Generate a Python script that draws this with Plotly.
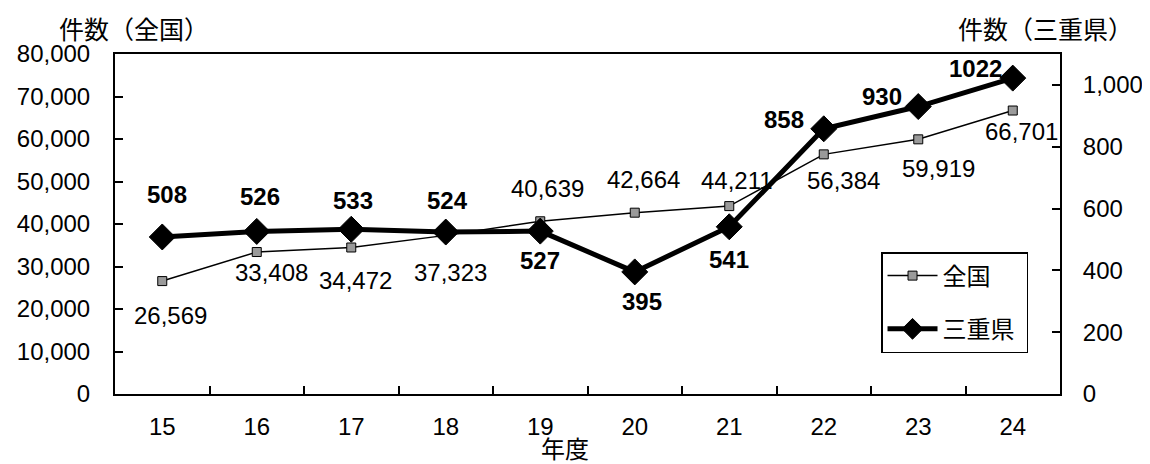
import plotly.graph_objects as go

years = ["15", "16", "17", "18", "19", "20", "21", "22", "23", "24"]
national = [26569, 33408, 34472, 37323, 40639, 42664, 44211, 56384, 59919, 66701]
mie = [508, 526, 533, 524, 527, 395, 541, 858, 930, 1022]

# label offsets in pixels (style only)
nat_off = [(8, 34), (15, 20), (4, 33), (5, 37), (7, -33), (9, -33), (8, -26), (20, 26), (20, 29), (9, 21)]
mie_off = [(5, -42), (3, -35), (2, -29), (2, -32), (0, 29), (7, 30), (0, 33), (-40, -9), (-36, -10), (-37, -10)]

FONT = "Liberation Sans, Arial, Noto Sans CJK JP"
FS = 24

fig = go.Figure()
fig.add_trace(go.Scatter(
    x=years, y=national, name="全国", mode="lines+markers",
    line=dict(color="black", width=1.5),
    marker=dict(symbol="square", size=9, color="#9a9a9a", line=dict(color="black", width=1)),
    yaxis="y", legendgroup="a",
))
fig.add_trace(go.Scatter(
    x=years, y=mie, name="三重県\u00a0", mode="lines+markers",
    line=dict(color="black", width=5),
    marker=dict(symbol="diamond", size=20, color="black", line=dict(color="black", width=1)),
    yaxis="y2", legendgroup="b",
))

annotations = []
for i, (yv, (dx, dy)) in enumerate(zip(national, nat_off)):
    annotations.append(dict(x=i, y=yv, xref="x", yref="y", text=f"{yv:,}",
                            showarrow=False, xshift=dx, yshift=-dy,
                            font=dict(family=FONT, size=FS, color="black")))
for i, (yv, (dx, dy)) in enumerate(zip(mie, mie_off)):
    annotations.append(dict(x=i, y=yv, xref="x", yref="y2", text=f"<b>{yv}</b>",
                            showarrow=False, xshift=dx, yshift=-dy,
                            font=dict(family=FONT, size=FS, color="black")))

annotations += [
    dict(text="件数（全国）", xref="paper", yref="paper", x=-0.0614, y=1.0, yshift=24,
         xanchor="left", yanchor="middle", showarrow=False,
         font=dict(family=FONT, size=25, color="black")),
    dict(text="件数（三重県）", xref="paper", yref="paper", x=1.0794, y=1.0, yshift=24,
         xanchor="right", yanchor="middle", showarrow=False,
         font=dict(family=FONT, size=25, color="black")),
    dict(text="年度", xref="paper", yref="paper", x=0.476, y=0, yshift=-55,
         xanchor="center", yanchor="middle", showarrow=False,
         font=dict(family=FONT, size=FS, color="black")),
]

fig.update_layout(
    width=1142, height=456,
    margin=dict(l=107, r=90, t=46, b=70, autoexpand=False),
    paper_bgcolor="white", plot_bgcolor="white",
    font=dict(family=FONT, size=FS, color="black"),
    showlegend=True,
    legend=dict(x=0.8106, y=0.4176, xanchor="left", yanchor="top",
                bgcolor="white", bordercolor="black", borderwidth=1.5,
                itemwidth=50, tracegroupgap=19,
                font=dict(family=FONT, size=FS, color="black")),
    xaxis=dict(type="category", range=[-0.5, 9.5], showgrid=False, automargin=False,
               ticks="inside", tickson="boundaries", tickangle=0,
               ticklen=8, tickwidth=2, tickcolor="black",
               showline=True, linecolor="black", linewidth=2, mirror=True,
               ticklabelstandoff=10, tickfont=dict(size=FS)),
    yaxis=dict(range=[0, 80000], dtick=10000, tickformat=",", showgrid=False, automargin=False,
               ticks="inside", ticklen=8, tickwidth=2, tickcolor="black",
               showline=True, linecolor="black", linewidth=2, zeroline=False,
               ticklabelstandoff=18, tickfont=dict(size=FS)),
    yaxis2=dict(range=[0, 1100], tickvals=[0, 200, 400, 600, 800, 1000], tickformat=",",
                overlaying="y", side="right", showgrid=False, automargin=False,
                ticks="inside", ticklen=8, tickwidth=2, tickcolor="black",
                showline=True, linecolor="black", linewidth=2, zeroline=False,
                ticklabelstandoff=16, tickfont=dict(size=FS)),
    annotations=annotations,
)

fig.write_html("out.html")
